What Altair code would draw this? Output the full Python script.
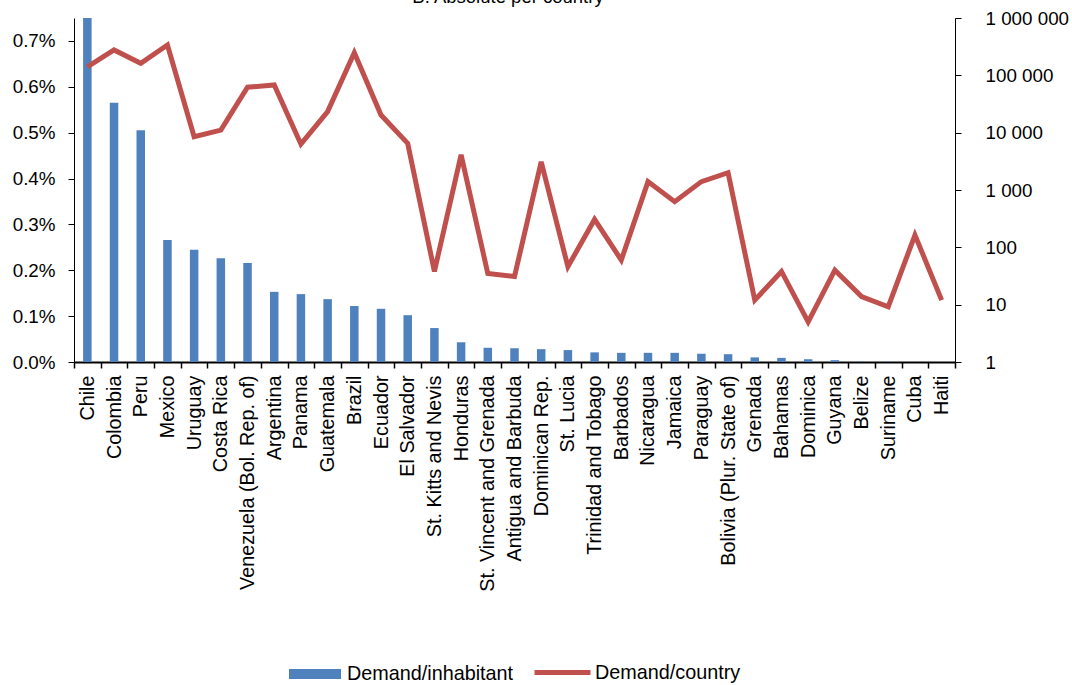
import altair as alt
import pandas as pd

# Countries, ordered by demand per inhabitant
countries = [
    "Chile", "Colombia", "Peru", "Mexico", "Uruguay", "Costa Rica",
    "Venezuela (Bol. Rep. of)", "Argentina", "Panama", "Guatemala", "Brazil",
    "Ecuador", "El Salvador", "St. Kitts and Nevis", "Honduras",
    "St. Vincent and Grenada", "Antigua and Barbuda", "Dominican Rep.",
    "St. Lucia", "Trinidad and Tobago", "Barbados", "Nicaragua", "Jamaica",
    "Paraguay", "Bolivia (Plur. State of)", "Grenada", "Bahamas", "Dominica",
    "Guyana", "Belize", "Suriname", "Cuba", "Haiti",
]

# Demand per inhabitant (share of population, left axis)
per_inhabitant = [
    0.0075, 0.00565, 0.00505, 0.00266, 0.00245, 0.00226,
    0.00216, 0.00153, 0.00148, 0.00137, 0.00122,
    0.00116, 0.00102, 0.00074, 0.00043,
    0.00031, 0.00030, 0.00028,
    0.00026, 0.00021, 0.00020, 0.00020, 0.00020,
    0.00018, 0.00017, 0.00010, 0.00009, 0.00006,
    0.00004, 0.00001, 0.000005, 0.000002, 0.000001,
]

# Demand per country (absolute, right log axis)
per_country = [
    141000, 277000, 162000, 338000, 8500, 11100,
    62000, 68000, 6300, 23300, 248000,
    20300, 6500, 38, 4100,
    35, 31, 3100,
    46, 307, 60, 1400, 625,
    1400, 2000, 12, 38, 5,
    40, 13.8, 9.2, 164, 12,
]

right_ticks = [1, 10, 100, 1000, 10000, 100000, 1000000]
left_ticks = [0, 0.001, 0.002, 0.003, 0.004, 0.005, 0.006, 0.007]

df = pd.DataFrame({
    "country": countries,
    "per_inhabitant": per_inhabitant,
    "per_country": per_country,
    "bar_series": "Demand/inhabitant",
    "line_series": "Demand/country",
})

FONT = "Liberation Sans"
BLUE = "#4F81BD"
RED = "#C0504D"

x_enc = alt.X(
    "country:N",
    sort=countries,
    scale=alt.Scale(paddingInner=0, paddingOuter=0),
    axis=alt.Axis(
        title=None, labelAngle=-90, labelFontSize=19.8, labelFont=FONT,
        labelColor="black", tickBand="extent", tickSize=6, tickColor="black",
        tickWidth=1.5, domainColor="black", domainWidth=2, labelPadding=7,
        labelLimit=0,
    ),
)

bars = alt.Chart(df).mark_bar(size=8.5).encode(
    x=x_enc,
    y=alt.Y(
        "per_inhabitant:Q",
        scale=alt.Scale(domain=[0, 0.0075], nice=False, zero=True),
        axis=alt.Axis(
            title=None, orient="left", values=left_ticks, format=".1%",
            labelFontSize=18.8, labelFont=FONT, labelColor="black",
            tickSize=6, tickColor="black", domainColor="black",
            domainWidth=1, labelPadding=13,
        ),
    ),
    color=alt.Color(
        "bar_series:N",
        scale=alt.Scale(domain=["Demand/inhabitant"], range=[BLUE]),
        legend=alt.Legend(
            title=None, orient="none", legendX=215, legendY=630,
            symbolType="M-1,-0.19H1V0.19H-1Z", symbolSize=2704,
            symbolStrokeWidth=0, labelFontSize=19.8, labelFont=FONT,
            labelColor="black", labelOffset=6, labelLimit=0, padding=0,
        ),
    ),
)

line = alt.Chart(df).mark_line(strokeWidth=5).encode(
    x=x_enc,
    y=alt.Y(
        "per_country:Q",
        scale=alt.Scale(type="log", domain=[1, 1000000], nice=False),
        axis=alt.Axis(
            title=None, orient="right", values=right_ticks,
            labelExpr="replace(replace(format(datum.value, ','), ',', ' '), ',', ' ')",
            labelFontSize=18.8, labelFont=FONT, labelColor="black",
            labelAlign="left", tickSize=6, tickColor="black",
            domainColor="black", domainWidth=1, labelPadding=24,
        ),
    ),
    stroke=alt.Stroke(
        "line_series:N",
        scale=alt.Scale(domain=["Demand/country"], range=[RED]),
        legend=alt.Legend(
            title=None, orient="none", legendX=458, legendY=624,
            symbolType="M-1,0H1", symbolSize=3136, symbolStrokeWidth=5,
            labelFontSize=19.8, labelFont=FONT, labelColor="black",
            labelOffset=2, labelLimit=0, padding=0,
        ),
    ),
)

title = alt.Chart(pd.DataFrame({"t": ["B. Absolute per country"]})).mark_text(
    fontSize=18.5, font=FONT, align="center", baseline="alphabetic", color="black"
).encode(x=alt.value(434), y=alt.value(-15), text="t:N")

chart = (
    alt.layer(bars, line, title)
    .resolve_scale(y="independent", color="independent")
    .properties(
        width=881,
        height=344,
        autosize=alt.AutoSizeParams(type="none"),
        padding={"left": 74, "top": 18, "right": 117, "bottom": 323},
    )
    .configure_view(stroke=None)
    .configure_axis(grid=False)
)

chart.save("out.html", embed_options={"renderer": "svg", "actions": False})
